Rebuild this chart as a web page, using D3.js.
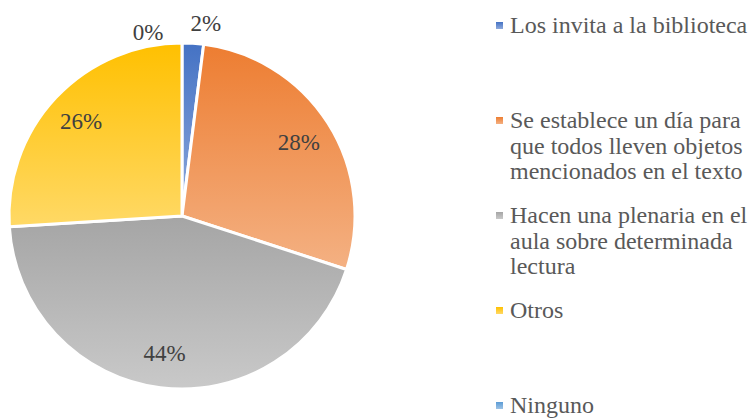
<!DOCTYPE html>
<html>
<head>
<meta charset="utf-8">
<script src="https://cdn.jsdelivr.net/npm/d3@7"></script>
<style>
  body { margin: 0; background: #fff; }
  svg { display: block; }
</style>
</head>
<body>
<svg id="chart"></svg>
<script>
const width = 750;
const height = 419;

const categories = [
  'Los invita a la biblioteca',
  'Se establece un día para que todos lleven objetos mencionados en el texto',
  'Hacen una plenaria en el aula sobre determinada lectura',
  'Otros',
  'Ninguno'
];
const legendLines = [
  ['Los invita a la biblioteca'],
  ['Se establece un día para', 'que todos lleven objetos', 'mencionados en el texto'],
  ['Hacen una plenaria en el', 'aula sobre determinada', 'lectura'],
  ['Otros'],
  ['Ninguno']
];
const values = [2, 28, 44, 26, 0];
const labels = ['2%', '28%', '44%', '26%', '0%'];

const colorsTop = ['#4472C4', '#ED7D31', '#A5A5A5', '#FFC000', '#5B9BD5'];
const colorsBottom = ['#8FAADC', '#F4B183', '#C9C9C9', '#FFD966', '#9DC3E6'];

const font = '"Liberation Serif"';
const cx = 182, cy = 216, radius = 173;

const svg = d3.select('#chart')
    .attr('width', width)
    .attr('height', height);

const defs = svg.append('defs');
categories.forEach((c, i) => {
  const g = defs.append('linearGradient')
      .attr('id', 'grad' + i)
      .attr('x1', 0).attr('y1', 0).attr('x2', 0).attr('y2', 1);
  g.append('stop').attr('offset', '0%').attr('stop-color', colorsTop[i]);
  g.append('stop').attr('offset', '100%').attr('stop-color', colorsBottom[i]);
});

const pie = d3.pie().sort(null).value(d => d);
const arcs = pie(values);
const arc = d3.arc().innerRadius(0).outerRadius(radius);

const pieG = svg.append('g').attr('transform', `translate(${cx},${cy})`);

pieG.selectAll('path')
  .data(arcs.filter(d => d.value > 0))
  .enter().append('path')
    .attr('d', arc)
    .attr('fill', d => `url(#grad${d.index})`)
    .attr('stroke', '#fff')
    .attr('stroke-width', 3)
    .attr('stroke-linejoin', 'round');

// data labels: inside for big slices, outside for the small ones
const inner = d3.arc().innerRadius(radius * 0.8).outerRadius(radius * 0.8);
pieG.selectAll('text.lbl')
  .data(arcs)
  .enter().append('text')
    .attr('class', 'lbl')
    .each(function (d) {
      let x, y, anchor = 'middle';
      const mid = (d.startAngle + d.endAngle) / 2;
      if (d.value >= 5) {
        [x, y] = inner.centroid(d);
      } else if (d.value > 0) {
        const a = mid + 0.06, r = radius + 22;
        x = Math.sin(a) * r; y = -Math.cos(a) * r;
      } else {
        const a = mid - 0.1, r = radius + 12;
        x = Math.sin(a) * r; y = -Math.cos(a) * r;
        anchor = 'end';
      }
      d3.select(this)
        .attr('x', x)
        .attr('y', y)
        .attr('dy', '0.35em')
        .attr('text-anchor', anchor);
    })
    .style('font-family', font)
    .attr('font-size', 23)
    .attr('fill', '#404040')
    .text((d, i) => labels[i]);

// legend
const legendX = 496;
const legendY = d3.scaleLinear().domain([0, 4]).range([33, 413]);
const legend = svg.append('g');
legendLines.forEach((lines, i) => {
  const y0 = legendY(i);
  legend.append('rect')
    .attr('x', legendX)
    .attr('y', y0 - 11)
    .attr('width', 7)
    .attr('height', 7)
    .attr('fill', `url(#grad${i})`);
  const t = legend.append('text')
    .attr('x', legendX + 14)
    .attr('y', y0)
    .style('font-family', font)
    .attr('font-size', 24)
    .attr('fill', '#595959');
  lines.forEach((l, j) => {
    t.append('tspan')
      .attr('x', legendX + 14)
      .attr('y', y0 + j * 25.5)
      .text(l);
  });
});
</script>
</body>
</html>
